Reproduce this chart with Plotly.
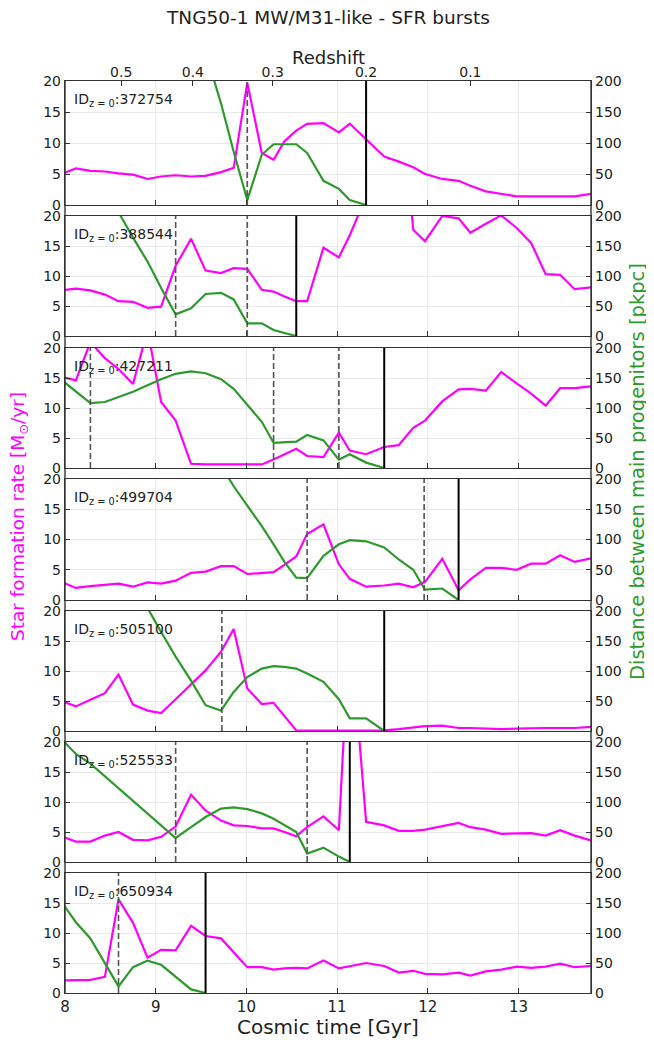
import plotly.graph_objects as go

# ---------------- data ----------------
times = [7.96, 8.12, 8.28, 8.44, 8.59, 8.75, 8.91, 9.06, 9.22, 9.39, 9.55, 9.72, 9.86, 10.01,
         10.17, 10.30, 10.42, 10.55, 10.67, 10.85, 11.02, 11.14, 11.32, 11.52, 11.68, 11.84,
         11.97, 12.16, 12.34, 12.47, 12.64, 12.81, 12.98, 13.14, 13.30, 13.46, 13.62, 13.80]

halo_ids = ["372754", "388544", "427211", "499704", "505100", "525533", "650934"]

sfr_372754 = [5.0, 5.9, 5.5, 5.4, 5.1, 4.9, 4.2, 4.6, 4.8, 4.6, 4.7, 5.3, 6.0, 19.7, 8.4, 7.3, 10.3,
              12.0, 13.1, 13.2, 11.7, 13.1, 10.6, 7.8, 7.0, 6.1, 5.0, 4.2, 3.9, 3.1, 2.2, 1.8, 1.4,
              1.4, 1.4, 1.4, 1.4, 1.8]
dist_372754 = [None, None, None, None, None, None, None, None, None, None, 247, 164, 86, 8, 81, 98,
               98, 98, 84, 39, 26, 8, 0, None, None, None, None, None, None, None, None, None, None,
               None, None, None, None, None]

sfr_388544 = [7.6, 7.9, 7.6, 6.9, 5.8, 5.7, 4.7, 4.9, 11.7, 16.2, 10.9, 10.5, 11.3, 11.2, 7.7, 7.4,
              6.6, 5.8, 5.8, 14.7, 13.1, 16.8, 23.2, 30.0, 45.0, 17.7, 15.8, 20.0, 19.6, 17.2, 18.7,
              20.1, 18.0, 15.5, 10.3, 10.2, 7.8, 8.1]
dist_388544 = [None, None, None, 246, 206, 164, 124, 80, 36, 46, 70, 72, 61, 21, 21, 10, 5, 0,
               None, None, None, None, None, None, None, None, None, None, None, None, None, None,
               None, None, None, None, None, None]

sfr_427211 = [15.2, 14.6, 21.0, 18.3, 16.5, 14.0, 23.0, 11.0, 7.9, 0.7, 0.6, 0.6, 0.7, 0.6, 0.6, 1.4,
              2.3, 3.2, 2.0, 1.8, 5.9, 2.9, 2.3, 3.5, 3.8, 6.7, 7.9, 11.1, 13.1, 13.2, 12.9, 16.0,
              14.1, 12.4, 10.4, 13.3, 13.3, 13.6]
dist_427211 = [147, 128, 108, 110, 118, 127, 138, 148, 157, 161, 158, 148, 132, 106, 77, 42, 43, 44,
               55, 46, 14, 23, 9, 0, None, None, None, None, None, None, None, None, None, None,
               None, None, None, None]

sfr_499704 = [3.0, 2.0, 2.3, 2.5, 2.7, 2.2, 2.9, 2.7, 3.2, 4.5, 4.7, 5.6, 5.6, 4.3, 4.5, 4.6, 5.8,
              7.2, 10.9, 12.5, 5.9, 3.5, 2.2, 2.4, 2.7, 2.1, 3.0, 6.8, 1.6, 3.4, 5.3, 5.3, 5.0, 6.0,
              6.0, 7.4, 6.3, 6.9]
dist_499704 = [None, None, None, None, None, None, None, None, None, None, None, 222, 188, 156, 122,
               92, 63, 37, 36, 73, 92, 99, 97, 87, 67, 50, 17, 19, 0, None, None, None, None, None,
               None, None, None, None]

sfr_505100 = [5.0, 4.1, 5.2, 6.3, 9.4, 4.4, 3.4, 3.0, 5.3, 7.7, 10.1, 13.2, 17.0, 7.1, 4.5, 4.7, 2.4,
              0.1, 0.05, 0.05, 0.05, 0.05, 0.05, 0.1, 0.3, 0.6, 0.8, 0.9, 0.5, 0.5, 0.4, 0.3, 0.4,
              0.5, 0.5, 0.5, 0.5, 0.7]
dist_505100 = [None, None, None, None, None, 260, 205, 165, 124, 84, 43, 34, 65, 90, 104, 108, 107,
               104, 96, 82, 53, 21, 21, 0, None, None, None, None, None, None, None, None, None,
               None, None, None, None, None]

sfr_525533 = [4.3, 3.4, 3.4, 4.4, 5.0, 3.7, 3.6, 4.2, 5.9, 11.2, 8.6, 6.9, 6.1, 6.0, 5.6, 5.6, 5.0,
              4.3, 5.8, 7.6, 5.3, 40.0, 6.7, 6.1, 5.2, 5.2, 5.4, 6.0, 6.5, 5.8, 5.4, 4.7, 4.7, 4.8,
              4.4, 5.3, 4.4, 3.6]
dist_525533 = [205, 180, 164, 143, 123, 102, 82, 61, 40, 58, 75, 89, 91, 88, 81, 72, 62, 50, 14, 24,
               9, 0, None, None, None, None, None, None, None, None, None, None, None, None, None,
               None, None, None]

sfr_650934 = [2.1, 2.1, 2.2, 2.7, 15.6, 11.7, 5.9, 7.2, 7.1, 11.2, 9.5, 9.1, 6.8, 4.3, 4.3, 3.9, 4.1,
              4.2, 4.1, 5.4, 4.1, 4.5, 5.0, 4.5, 3.4, 3.7, 3.2, 3.1, 3.4, 2.9, 3.6, 3.9, 4.4, 4.2,
              4.4, 4.9, 4.3, 4.5]
dist_650934 = [152, 118, 91, 50, 11, 43, 54, 47, 27, 6, 0, None, None, None, None, None, None, None,
               None, None, None, None, None, None, None, None, None, None, None, None, None, None,
               None, None, None, None, None, None]

sfr_series = [sfr_372754, sfr_388544, sfr_427211, sfr_499704, sfr_505100, sfr_525533, sfr_650934]
dist_series = [dist_372754, dist_388544, dist_427211, dist_499704, dist_505100, dist_525533, dist_650934]

# event times: dashed = bursts, solid = merger (progenitor distance reaches 0)
burst_times = [[10.01], [9.22, 10.01], [8.28, 10.30, 11.02], [10.67, 11.96], [9.73], [9.22, 10.67], [8.59]]
merger_times = [11.32, 10.55, 11.52, 12.34, 11.52, 11.14, 9.55]

redshift_labels = ["0.5", "0.4", "0.3", "0.2", "0.1"]
redshift_times = [8.62, 9.41, 10.29, 11.32, 12.47]

time_ticks = [8, 9, 10, 11, 12, 13]
sfr_ticks = [0, 5, 10, 15, 20]
dist_ticks = [0, 50, 100, 150, 200]

# ---------------- styling / layout ----------------
MAG = "#ff00ff"
GRN = "#2e9a2e"
AXC = "#333333"
GRID = "#e9e9e9"
FONT = "DejaVu Sans"
W, H = 654, 1040
M_L, M_R, M_T, M_B = 57, 71, 73, 55
plot_h = H - M_T - M_B
plot_w = W - M_L - M_R
panel_tops = [73, 208, 340, 471, 603, 734, 865]
panel_bots = [197, 328, 460, 592, 723, 854, 985]
bottom_px = H - M_B


def ypaper(px):
    return (bottom_px - px) / plot_h


def xpaper(px):
    return (px - M_L) / plot_w


fig = go.Figure()
layout = dict(
    width=W, height=H,
    margin=dict(l=M_L, r=M_R, t=M_T, b=M_B),
    paper_bgcolor="white", plot_bgcolor="white",
    showlegend=False,
    font=dict(family=FONT, size=13, color="#222"),
)
shapes = []
annotations = []

n = len(sfr_series)
for i in range(n):
    k = i + 1
    xa = "x" if k == 1 else f"x{k}"
    ya = "y" if k == 1 else f"y{k}"
    yb = f"y{k + n}"
    dom = [ypaper(panel_bots[i]), ypaper(panel_tops[i])]

    layout["xaxis" if k == 1 else f"xaxis{k}"] = dict(
        domain=[0, 1], anchor=ya, range=[8, 13.8], tickvals=time_ticks,
        ticks="inside", ticklen=5, tickcolor=AXC, showgrid=True, gridcolor=GRID, gridwidth=1,
        showline=True, linecolor=AXC, linewidth=1.4, mirror=True, zeroline=False,
        showticklabels=(k == n), tickfont=dict(size=15, color="#222"),
    )
    layout["yaxis" if k == 1 else f"yaxis{k}"] = dict(
        domain=dom, anchor=xa, range=[0, 20], tickvals=sfr_ticks,
        ticks="inside", ticklen=5, tickcolor=AXC, showgrid=True, gridcolor=GRID, gridwidth=1,
        showline=True, linecolor=AXC, linewidth=1.4, zeroline=False,
        tickfont=dict(size=14, color="#222"),
    )
    layout[f"yaxis{k + n}"] = dict(
        overlaying=ya, side="right", anchor=xa, range=[0, 200], tickvals=dist_ticks,
        ticks="inside", ticklen=5, tickcolor=AXC, showgrid=False,
        showline=True, linecolor=AXC, linewidth=1.4, zeroline=False,
        tickfont=dict(size=14, color="#222"),
    )

    fig.add_trace(go.Scatter(x=times, y=sfr_series[i], mode="lines", xaxis=xa, yaxis=ya,
                             line=dict(color=MAG, width=2.2), connectgaps=False))
    fig.add_trace(go.Scatter(x=times, y=dist_series[i], mode="lines", xaxis=xa, yaxis=yb,
                             line=dict(color=GRN, width=2.2), connectgaps=False))

    for bt in burst_times[i]:
        shapes.append(dict(type="line", xref=xa, x0=bt, x1=bt, yref=f"{ya} domain", y0=0, y1=1,
                           line=dict(color="#555555", width=1.6, dash="6px,3px")))
    mt = merger_times[i]
    shapes.append(dict(type="line", xref=xa, x0=mt, x1=mt, yref=f"{ya} domain", y0=0, y1=1,
                       line=dict(color="black", width=2)))

    annotations.append(dict(
        text=f"ID<sub>z = 0</sub>:{halo_ids[i]}", xref=f"{xa} domain", yref=f"{ya} domain",
        x=0.014, y=1 - 19 / (panel_bots[i] - panel_tops[i]), xanchor="left", yanchor="middle",
        showarrow=False, font=dict(family=FONT, size=14, color="#222")))

# top redshift axis
layout["xaxis15"] = dict(
    overlaying="x", side="top", anchor="y", range=[8, 13.8], tickvals=redshift_times,
    ticktext=redshift_labels, ticks="inside", ticklen=5, tickcolor=AXC, showgrid=False,
    showline=False, zeroline=False, tickfont=dict(size=14, color="#222"),
)
fig.add_trace(go.Scatter(x=[8], y=[None], mode="markers", xaxis="x15", yaxis="y",
                         marker=dict(opacity=0), hoverinfo="skip"))

# continuous side frame through the gaps
for xv in (0, 1):
    shapes.append(dict(type="line", xref="paper", yref="paper", x0=xv, x1=xv,
                       y0=0, y1=1, line=dict(color=AXC, width=1.4)))

annotations += [
    dict(text="TNG50-1 MW/M31-like - SFR bursts", xref="paper", yref="paper", x=0.5,
         y=ypaper(9), xanchor="center", yanchor="middle", showarrow=False,
         font=dict(family=FONT, size=18.5, color="#222")),
    dict(text="Redshift", xref="paper", yref="paper", x=0.5, y=ypaper(50), xanchor="center",
         yanchor="middle", showarrow=False, font=dict(family=FONT, size=18, color="#222")),
    dict(text="Cosmic time [Gyr]", xref="paper", yref="paper", x=0.5, y=ypaper(1019),
         xanchor="center", yanchor="middle", showarrow=False,
         font=dict(family=FONT, size=20, color="#222")),
    dict(text="Star formation rate [M<sub>⊙</sub>/yr]", xref="paper", yref="paper",
         x=xpaper(11), y=ypaper(509), xanchor="center", yanchor="middle",
         textangle=-90, showarrow=False, font=dict(family=FONT, size=18.5, color=MAG)),
    dict(text="Distance between main progenitors [pkpc]", xref="paper", yref="paper",
         x=xpaper(629), y=ypaper(464), xanchor="center", yanchor="middle",
         textangle=-90, showarrow=False, font=dict(family=FONT, size=19.5, color=GRN)),
]

layout["shapes"] = shapes
layout["annotations"] = annotations
fig.update_layout(**layout)
fig.write_html("out.html")
